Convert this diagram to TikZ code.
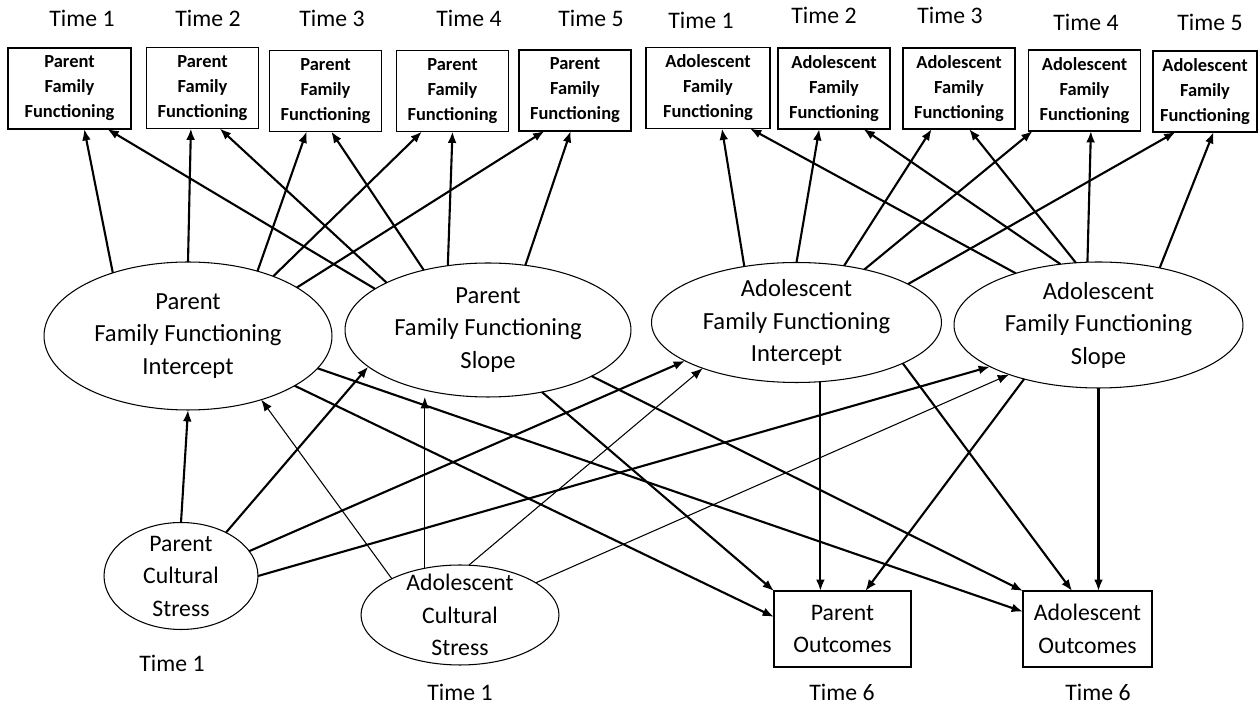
\documentclass[tikz,border=0pt]{standalone}
\usepackage{fontspec}
\setmainfont{Carlito}
\usetikzlibrary{arrows.meta, shapes.geometric}
\newcommand{\drawLink}[3]{
  \draw[->, #3] (#1) -- (#2);
}

\begin{document}
\begin{tikzpicture}[x=0.02cm, y=-0.02cm, line width=1.2pt,
  >={Latex[length=6.5pt, width=5pt]},
  obs/.style={draw, line width=0.9pt, minimum width=2.24cm, minimum height=1.62cm,
    inner sep=0pt, outer sep=0pt, align=center, font=\fontsize{10.5}{14.2}\selectfont\bfseries},
  outbox/.style={draw, line width=1pt, minimum height=1.52cm, inner sep=0pt, outer sep=0pt,
    align=center, font=\fontsize{13.5}{18.5}\selectfont},
  latent/.style={draw, ellipse, line width=0.6pt, inner sep=-8pt, outer sep=0pt,
    align=center, font=\fontsize{14}{18.5}\selectfont},
  stressnode/.style={draw, ellipse, line width=0.6pt, inner sep=-10pt, outer sep=0pt,
    align=center, font=\fontsize{13.5}{18.5}\selectfont},
  timetext/.style={font=\fontsize{13.5}{16}\selectfont},
  weak/.style={line width=0.6pt},
  medium/.style={line width=0.75pt}]
  \useasboundingbox (0,0) rectangle (1259,705);

  % Time labels
  \node[timetext] (tp1) at (82,18) {Time 1};
  \node[timetext] (tp2) at (208,18) {Time 2};
  \node[timetext] (tp3) at (332,18) {Time 3};
  \node[timetext] (tp4) at (469,18) {Time 4};
  \node[timetext] (tp5) at (591,18) {Time 5};
  \node[timetext] (ta1) at (701,20) {Time 1};
  \node[timetext] (ta2) at (824,15) {Time 2};
  \node[timetext] (ta3) at (950,15) {Time 3};
  \node[timetext] (ta4) at (1086,22) {Time 4};
  \node[timetext] (ta5) at (1210,22) {Time 5};

  % Repeated measures
  \node[obs, minimum width=2.46cm] (PF1) at (69.5,88.5) {Parent\\Family\\Functioning};
  \node[obs] (PF2) at (202.5,88) {Parent\\Family\\Functioning};
  \node[obs] (PF3) at (325.5,91) {Parent\\Family\\Functioning};
  \node[obs] (PF4) at (452.5,91) {Parent\\Family\\Functioning};
  \node[obs] (PF5) at (575,90.5) {Parent\\Family\\Functioning};
  \node[obs, minimum width=2.48cm] (AF1) at (708,88) {Adolescent\\Family\\Functioning};
  \node[obs] (AF2) at (834,88.5) {Adolescent\\Family\\Functioning};
  \node[obs] (AF3) at (959,88.5) {Adolescent\\Family\\Functioning};
  \node[obs] (AF4) at (1084.5,90.5) {Adolescent\\Family\\Functioning};
  \node[obs, minimum width=2.08cm] (AF5) at (1205,91.5) {Adolescent\\Family\\Functioning};

  % Growth factors
  \node[latent, minimum width=5.76cm, minimum height=2.96cm] (PI) at (188,336)
    {Parent\\Family Functioning\\Intercept};
  \node[latent, minimum width=5.72cm, minimum height=2.68cm] (PS) at (488,330)
    {Parent\\Family Functioning\\Slope};
  \node[latent, minimum width=5.8cm, minimum height=2.4cm] (AI) at (796.5,322.5)
    {Adolescent\\Family Functioning\\Intercept};
  \node[latent, minimum width=5.78cm, minimum height=2.52cm] (AS) at (1098.5,325)
    {Adolescent\\Family Functioning\\Slope};

  % Predictors and outcomes
  \node[stressnode, minimum width=3.08cm, minimum height=2.14cm] (PCS) at (181,576)
    {Parent\\Cultural\\Stress};
  \node[stressnode, minimum width=3.96cm, minimum height=2cm] (ACS) at (460,615)
    {Adolescent\\Cultural\\Stress};
  \node[outbox, minimum width=2.74cm] (PO) at (842.5,629) {Parent\\Outcomes};
  \node[outbox, minimum width=2.58cm] (AO) at (1087.5,629) {Adolescent\\Outcomes};
  \node[timetext] (tpcs) at (172,663) {Time 1};
  \node[timetext] (tacs) at (460,692) {Time 1};
  \node[timetext] (tpo) at (842,692) {Time 6};
  \node[timetext] (tao) at (1098,692) {Time 6};

  % Loadings
  \drawLink{PI.140}{PF1.-70}{}
  \drawLink{PI.90}{PF2.-106}{}
  \drawLink{PI.43}{PF3.-115}{}
  \drawLink{PI.35}{PF4.-127}{}
  \drawLink{PI.24}{PF5.-127}{}
  \drawLink{PS.160}{PF1.-47}{}
  \drawLink{PS.155}{PF2.-67}{}
  \drawLink{PS.137}{PF3.-82}{}
  \drawLink{PS.122}{PF4.-90}{}
  \drawLink{PS.60}{PF5.-96}{}
  \drawLink{AI.133}{AF1.-71}{}
  \drawLink{AI.90}{AF2.-110}{}
  \drawLink{AI.50}{AF3.-124}{}
  \drawLink{AI.38}{AF4.-142}{}
  \drawLink{AI.19}{AF5.-126}{}
  \drawLink{AS.148}{AF1.-44}{}
  \drawLink{AS.122}{AF2.-54}{}
  \drawLink{AS.110}{AF3.-76}{}
  \drawLink{AS.100}{AF4.-81}{}
  \drawLink{AS.43}{AF5.-78}{}

  % Cultural stress paths
  \drawLink{PCS.north}{PI.south}{}
  \drawLink{PCS.44}{PS.197}{}
  \drawLink{PCS.20}{AI.199}{}
  \drawLink{PCS.0}{AS.201}{}
  \drawLink{ACS.152}{PI.-41}{weak}
  \drawLink{ACS.127}{ACS.127 |- PS.south}{medium}
  \drawLink{ACS.80}{AI.206}{weak}
  \drawLink{ACS.23}{AS.209}{weak}

  % Outcome paths
  \drawLink{PI.-25}{PO.170}{}
  \drawLink{PI.-14}{AO.165}{}
  \drawLink{PS.-49}{PO.north west}{}
  \drawLink{PS.-24}{AO.north west}{}
  \drawLink{AI.-68}{AI.-68 |- PO.north}{}
  \drawLink{AI.-21}{AO.112}{}
  \drawLink{AS.216}{PO.59}{}
  \drawLink{AS.south}{AS.south |- AO.north}{}
\end{tikzpicture}
\end{document}
